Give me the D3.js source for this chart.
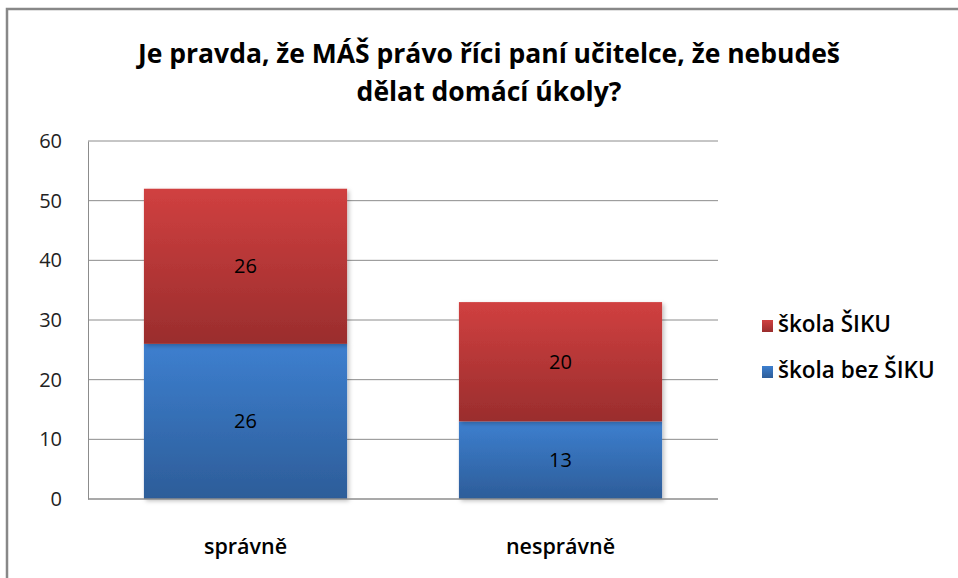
<!DOCTYPE html>
<html>
<head>
<meta charset="utf-8">
<script src="https://cdn.jsdelivr.net/npm/d3@7"></script>
<style>
  body { margin: 0; background: #fff; }
  svg { display: block; font-family: "Open Sans", Lato, sans-serif; }
</style>
</head>
<body>
<div id="chart"></div>
<script>
// data
var categories = ["správně", "nesprávně"];
var seriesNames = ["škola bez ŠIKU", "škola ŠIKU"];
var bezSiku = [26, 13];
var sSiku = [26, 20];
var yTicks = [0, 10, 20, 30, 40, 50, 60];

var W = 958, H = 578;
var margin = {left: 88, right: 240, top: 141, bottom: 79};
var font = "'Open Sans', Lato, sans-serif";

var svg = d3.select("#chart").append("svg")
  .attr("width", W)
  .attr("height", H);

var defs = svg.append("defs");

// gradients for the bars
function grad(id, top, bottom) {
  var g = defs.append("linearGradient")
    .attr("id", id)
    .attr("x1", 0).attr("y1", 0)
    .attr("x2", 0).attr("y2", 1);
  g.append("stop").attr("offset", 0).attr("stop-color", top);
  g.append("stop").attr("offset", 1).attr("stop-color", bottom);
}
grad("gBlue", "#3d7fcf", "#2d5d99");
grad("gRed", "#d04040", "#9a2d2d");
var fills = ["url(#gBlue)", "url(#gRed)"];

var shadow = defs.append("filter")
  .attr("id", "shadow")
  .attr("x", "-10%").attr("y", "-10%")
  .attr("width", "130%").attr("height", "130%");
shadow.append("feDropShadow")
  .attr("dx", 2).attr("dy", 2)
  .attr("stdDeviation", 2)
  .attr("flood-color", "#000")
  .attr("flood-opacity", 0.25);

// outer frame
svg.append("rect")
  .attr("x", 7).attr("y", 9)
  .attr("width", W + 20).attr("height", H + 20)
  .attr("fill", "none")
  .attr("stroke", "#888")
  .attr("stroke-width", 2.5);

// title
var title = svg.append("text")
  .attr("text-anchor", "middle")
  .attr("font-size", 26.5)
  .attr("font-weight", "bold")
  .attr("fill", "#000");
title.append("tspan").attr("x", 489).attr("y", 63)
  .text("Je pravda, že MÁŠ právo říci paní učitelce, že nebudeš");
title.append("tspan").attr("x", 489).attr("y", 101)
  .text("dělat domácí úkoly?");

var x = d3.scaleBand()
  .domain(categories)
  .range([margin.left, W - margin.right])
  .paddingInner(0.355)
  .paddingOuter(0.1775);

var y = d3.scaleLinear()
  .domain([0, 60])
  .range([H - margin.bottom, margin.top]);

// gridlines
svg.append("g")
  .selectAll("line")
  .data(yTicks.filter(function(d){ return d > 0; }))
  .enter().append("line")
  .attr("x1", margin.left).attr("x2", W - margin.right)
  .attr("y1", function(d){ return y(d); })
  .attr("y2", function(d){ return y(d); })
  .attr("stroke", "#8c8c8c")
  .attr("stroke-width", 1);

// y axis
var yAxis = svg.append("g")
  .attr("transform", "translate(" + margin.left + ",0)")
  .call(d3.axisLeft(y).tickValues(yTicks).tickSize(0).tickPadding(26));
yAxis.select(".domain").attr("stroke", "#8c8c8c").attr("stroke-width", 1);
yAxis.selectAll("text")
  .attr("font-size", 20)
  .attr("font-family", font)
  .attr("fill", "#222");

// stacked bars
var stackData = categories.map(function(c, i){
  return {cat: c, a: bezSiku[i], b: sSiku[i]};
});
var stacked = d3.stack().keys(["a", "b"])(stackData);

var layers = svg.append("g")
  .selectAll("g")
  .data(stacked)
  .enter().append("g");

layers.selectAll("rect")
  .data(function(d){ return d; })
  .enter().append("rect")
  .attr("x", function(d){ return x(d.data.cat); })
  .attr("y", function(d){ return y(d[1]); })
  .attr("width", x.bandwidth())
  .attr("height", function(d){ return y(d[0]) - y(d[1]); })
  .attr("fill", function(d){ return fills[d3.select(this.parentNode).datum().index]; })
  .attr("filter", "url(#shadow)");

// data labels
layers.selectAll("text")
  .data(function(d){ return d; })
  .enter().append("text")
  .attr("x", function(d){ return x(d.data.cat) + x.bandwidth() / 2; })
  .attr("y", function(d){ return (y(d[0]) + y(d[1])) / 2 + 7; })
  .attr("text-anchor", "middle")
  .attr("font-size", 20)
  .attr("fill", "#000")
  .text(function(d){ return d[1] - d[0]; });

// x axis baseline
svg.append("line")
  .attr("x1", margin.left).attr("x2", W - margin.right)
  .attr("y1", y(0)).attr("y2", y(0))
  .attr("stroke", "#8c8c8c")
  .attr("stroke-width", 1.5);

// category labels
svg.append("g")
  .selectAll("text")
  .data(categories)
  .enter().append("text")
  .attr("x", function(d){ return x(d) + x.bandwidth() / 2; })
  .attr("y", 554)
  .attr("text-anchor", "middle")
  .attr("font-size", 21.5)
  .attr("font-weight", 600)
  .attr("fill", "#000")
  .text(function(d){ return d; });

// legend (ŠIKU on top)
var legendItems = [
  {name: seriesNames[1], fill: fills[1]},
  {name: seriesNames[0], fill: fills[0]}
];
var legend = svg.append("g")
  .selectAll("g")
  .data(legendItems)
  .enter().append("g")
  .attr("transform", function(d, i){ return "translate(762," + (332 + i * 46) + ")"; });
legend.append("rect")
  .attr("x", 0).attr("y", -12)
  .attr("width", 11).attr("height", 12)
  .attr("fill", function(d){ return d.fill; });
legend.append("text")
  .attr("x", 16).attr("y", 0)
  .attr("font-size", 22.5)
  .attr("font-weight", 600)
  .attr("fill", "#000")
  .text(function(d){ return d.name; });
</script>
</body>
</html>
